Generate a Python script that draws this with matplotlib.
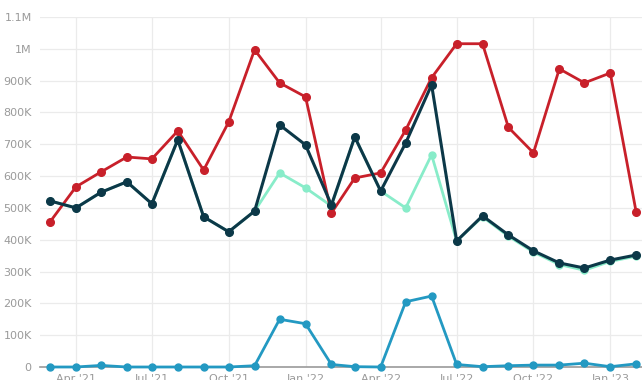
import numpy as np
import pandas as pd
import matplotlib
matplotlib.use("Agg")
import matplotlib.pyplot as plt
import matplotlib.dates as mdates
from matplotlib.ticker import FuncFormatter

months = pd.date_range("2021-03-01", "2023-02-01", freq="MS")

red = [456, 566, 613, 660, 654, 742, 619, 770, 997, 893, 849, 484,
       594, 610, 745, 909, 1016, 1016, 753, 673, 937, 893, 924, 487]
navy = [522, 500, 549, 582, 513, 714, 472, 425, 490, 761, 698, 509,
        723, 553, 704, 887, 396, 475, 415, 365, 327, 311, 336, 352]
mint = [522, 500, 549, 582, 513, 714, 472, 425, 490, 610, 563, 506,
        723, 553, 500, 667, 396, 472, 411, 361, 322, 304, 332, 348]
blue = [0, 0, 5, 0, 0, 0, 0, 0, 4, 150, 136, 8,
        1, 0, 205, 223, 8, 1, 4, 6, 6, 12, 1, 10]

series = [
    (blue, "#2399c2", 2.0, 5.0),
    (mint, "#88ecc9", 2.0, 5.0),
    (red, "#c8202a", 2.0, 5.5),
    (navy, "#0c3848", 2.2, 5.5),
]

fig = plt.figure(figsize=(6.42, 3.80), dpi=100)
ax = fig.add_axes([40 / 642, 13 / 380, 602 / 642, 350 / 380])

for vals, col, lw, ms in series:
    ax.plot(months, np.array(vals) * 1000, color=col, lw=lw, marker="o",
            ms=ms, clip_on=False, zorder=3)

ax.set_ylim(0, 1.1e6)
ax.set_xlim(pd.Timestamp("2021-02-17"), pd.Timestamp("2023-02-08"))
ax.set_yticks(np.arange(0, 1.1e6 + 1, 1e5))


def fmt(v, pos):
    if v == 0:
        return "0"
    if v >= 1e6:
        return f"{v / 1e6:g}M"
    return f"{v / 1e3:g}K"


ax.yaxis.set_major_formatter(FuncFormatter(fmt))
ax.xaxis.set_major_locator(mdates.MonthLocator(bymonth=[1, 4, 7, 10]))
ax.xaxis.set_major_formatter(mdates.DateFormatter("%b '%y"))

ax.grid(True, color="#ebebeb", lw=0.9, zorder=0)
for s in ["top", "right", "left"]:
    ax.spines[s].set_visible(False)
ax.spines["bottom"].set_color("#9a9a9a")
ax.spines["bottom"].set_linewidth(1.2)
ax.tick_params(axis="both", length=0, labelsize=8, colors="#9a9a9a")
ax.tick_params(axis="y", pad=6)
ax.tick_params(axis="x", pad=5)

fig.savefig("out.png", dpi=100)
